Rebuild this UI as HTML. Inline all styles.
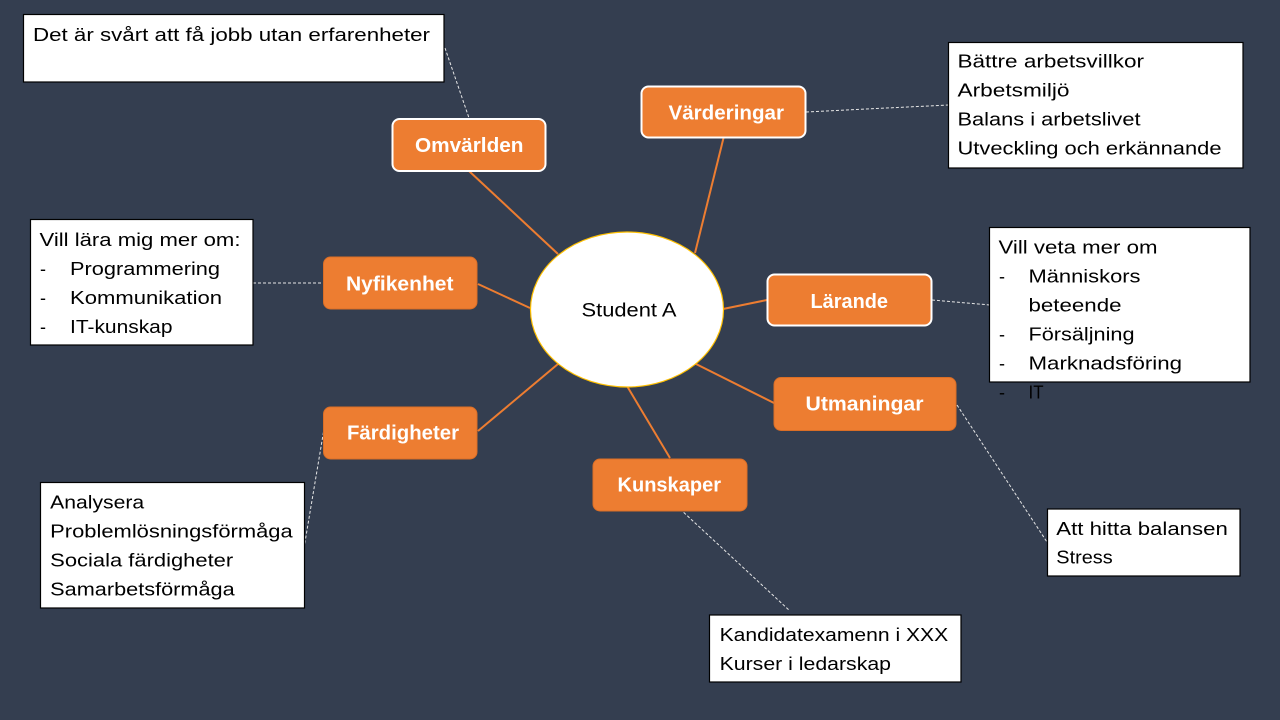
<!DOCTYPE html>
<html>
<head>
<meta charset="utf-8">
<style>
  html,body{margin:0;padding:0;background:#343E50;}
  svg{display:block;}
  .t{font-family:"Liberation Sans",Arial,sans-serif;font-size:18px;fill:#000;}
  .l{font-family:"Liberation Sans",Arial,sans-serif;font-size:20px;font-weight:bold;fill:#fff;}
</style>
</head>
<body>
<svg width="1280" height="720" viewBox="0 0 1280 720" xmlns="http://www.w3.org/2000/svg">
  <rect x="0" y="0" width="1280" height="720" fill="#343E50"/>

  <!-- solid orange connectors -->
  <g stroke="#ED7D31" stroke-width="2" fill="none">
    <line x1="469" y1="171" x2="558" y2="254"/>
    <line x1="723.5" y1="138" x2="695" y2="253"/>
    <line x1="478" y1="284" x2="530" y2="308"/>
    <line x1="767" y1="300" x2="723" y2="309"/>
    <line x1="774" y1="403" x2="696" y2="364"/>
    <line x1="478" y1="431" x2="558" y2="364"/>
    <line x1="670" y1="458" x2="627" y2="386"/>
  </g>

  <!-- dashed white connectors -->
  <g stroke="#E6E6E6" stroke-width="1" fill="none" stroke-dasharray="3,2">
    <line x1="445" y1="48" x2="469" y2="118"/>
    <line x1="806" y1="112" x2="948" y2="105"/>
    <line x1="253" y1="283" x2="323" y2="283"/>
    <line x1="932" y1="300" x2="990" y2="305"/>
    <line x1="957" y1="405" x2="1047" y2="542"/>
    <line x1="323.5" y1="432" x2="304.5" y2="545"/>
    <line x1="680" y1="509" x2="790" y2="611"/>
  </g>

  <!-- central ellipse -->
  <ellipse cx="627" cy="309.5" rx="96.5" ry="77.5" fill="#fff" stroke="#FFC000" stroke-width="1.2"/>
  <text class="t" x="581.5" y="316.5" textLength="95" lengthAdjust="spacingAndGlyphs" style="font-size:19px">Student A</text>

  <!-- orange labels -->
  <rect x="392.5" y="119" width="153" height="52" rx="7" fill="#ED7D31" stroke="#fff" stroke-width="2"/>
  <text class="l" x="415" y="152" textLength="108.5" lengthAdjust="spacingAndGlyphs">Omvärlden</text>

  <rect x="641.5" y="86.5" width="164" height="51" rx="7" fill="#ED7D31" stroke="#fff" stroke-width="2"/>
  <text class="l" x="668.5" y="119.5" textLength="115.5" lengthAdjust="spacingAndGlyphs">Värderingar</text>

  <rect x="323.5" y="257" width="153.5" height="52" rx="7" fill="#ED7D31" stroke="#DA6E26" stroke-width="1"/>
  <text class="l" x="346" y="290.5" textLength="107.5" lengthAdjust="spacingAndGlyphs">Nyfikenhet</text>

  <rect x="767.5" y="274.5" width="164" height="51" rx="7" fill="#ED7D31" stroke="#fff" stroke-width="2"/>
  <text class="l" x="810.5" y="308" textLength="77.5" lengthAdjust="spacingAndGlyphs">Lärande</text>

  <rect x="774" y="377.5" width="182" height="53" rx="7" fill="#ED7D31" stroke="#DA6E26" stroke-width="1"/>
  <text class="l" x="805.5" y="410.5" textLength="118" lengthAdjust="spacingAndGlyphs">Utmaningar</text>

  <rect x="323.5" y="407" width="153.5" height="52" rx="7" fill="#ED7D31" stroke="#DA6E26" stroke-width="1"/>
  <text class="l" x="347" y="439.5" textLength="112" lengthAdjust="spacingAndGlyphs">Färdigheter</text>

  <rect x="593" y="459" width="154" height="52" rx="7" fill="#ED7D31" stroke="#DA6E26" stroke-width="1"/>
  <text class="l" x="617.5" y="491.5" textLength="103.5" lengthAdjust="spacingAndGlyphs">Kunskaper</text>

  <!-- white info boxes -->
  <g fill="#fff" stroke="#000" stroke-width="1.2">
    <rect x="23.5" y="14.5" width="420.5" height="67.5"/>
    <rect x="948.5" y="42.5" width="294.5" height="125.5"/>
    <rect x="30.5" y="219.5" width="222.5" height="125.5"/>
    <rect x="989.5" y="227.5" width="260.5" height="154.5"/>
    <rect x="40.5" y="482.5" width="264" height="125.5"/>
    <rect x="1047.5" y="509" width="192.5" height="67"/>
    <rect x="709.5" y="615" width="251.5" height="67"/>
  </g>

  <!-- top-left box -->
  <text class="t" x="33" y="41" textLength="397" lengthAdjust="spacingAndGlyphs">Det är svårt att få jobb utan erfarenheter</text>

  <!-- Värderingar box -->
  <text class="t" x="957.5" y="67.5" textLength="186.5" lengthAdjust="spacingAndGlyphs">Bättre arbetsvillkor</text>
  <text class="t" x="957.5" y="96.5" textLength="112" lengthAdjust="spacingAndGlyphs">Arbetsmiljö</text>
  <text class="t" x="957.5" y="125.5" textLength="183" lengthAdjust="spacingAndGlyphs">Balans i arbetslivet</text>
  <text class="t" x="957.5" y="154.5" textLength="264" lengthAdjust="spacingAndGlyphs">Utveckling och erkännande</text>

  <!-- Nyfikenhet box -->
  <text class="t" x="39.5" y="246" textLength="201" lengthAdjust="spacingAndGlyphs">Vill lära mig mer om:</text>
  <text class="t" x="40" y="275">-</text>
  <text class="t" x="70" y="275" textLength="150" lengthAdjust="spacingAndGlyphs">Programmering</text>
  <text class="t" x="40" y="304">-</text>
  <text class="t" x="70" y="304" textLength="152" lengthAdjust="spacingAndGlyphs">Kommunikation</text>
  <text class="t" x="40" y="333">-</text>
  <text class="t" x="70" y="333" textLength="102.5" lengthAdjust="spacingAndGlyphs">IT-kunskap</text>

  <!-- Lärande box -->
  <text class="t" x="998.5" y="253.5" textLength="159" lengthAdjust="spacingAndGlyphs">Vill veta mer om</text>
  <text class="t" x="999" y="282.5">-</text>
  <text class="t" x="1028.5" y="282.5" textLength="112" lengthAdjust="spacingAndGlyphs">Människors</text>
  <text class="t" x="1028.5" y="311.5" textLength="93" lengthAdjust="spacingAndGlyphs">beteende</text>
  <text class="t" x="999" y="340.5">-</text>
  <text class="t" x="1028.5" y="340.5" textLength="106" lengthAdjust="spacingAndGlyphs">Försäljning</text>
  <text class="t" x="999" y="369.5">-</text>
  <text class="t" x="1028.5" y="369.5" textLength="153.5" lengthAdjust="spacingAndGlyphs">Marknadsföring</text>
  <text class="t" x="999" y="398.5">-</text>
  <text class="t" x="1028.5" y="398.5" textLength="15" lengthAdjust="spacingAndGlyphs">IT</text>

  <!-- Färdigheter box -->
  <text class="t" x="50.2" y="508.5" textLength="94" lengthAdjust="spacingAndGlyphs">Analysera</text>
  <text class="t" x="50.2" y="537.5" textLength="242.5" lengthAdjust="spacingAndGlyphs">Problemlösningsförmåga</text>
  <text class="t" x="50.2" y="566.5" textLength="183" lengthAdjust="spacingAndGlyphs">Sociala färdigheter</text>
  <text class="t" x="50.2" y="595.5" textLength="184.5" lengthAdjust="spacingAndGlyphs">Samarbetsförmåga</text>

  <!-- Utmaningar box -->
  <text class="t" x="1056.3" y="535" textLength="171.5" lengthAdjust="spacingAndGlyphs">Att hitta balansen</text>
  <text class="t" x="1056.3" y="563.5" textLength="56.4" lengthAdjust="spacingAndGlyphs">Stress</text>

  <!-- Kunskaper box -->
  <text class="t" x="719.6" y="641" textLength="228.6" lengthAdjust="spacingAndGlyphs">Kandidatexamenn i XXX</text>
  <text class="t" x="719.6" y="670" textLength="171.4" lengthAdjust="spacingAndGlyphs">Kurser i ledarskap</text>
</svg>
</body>
</html>
